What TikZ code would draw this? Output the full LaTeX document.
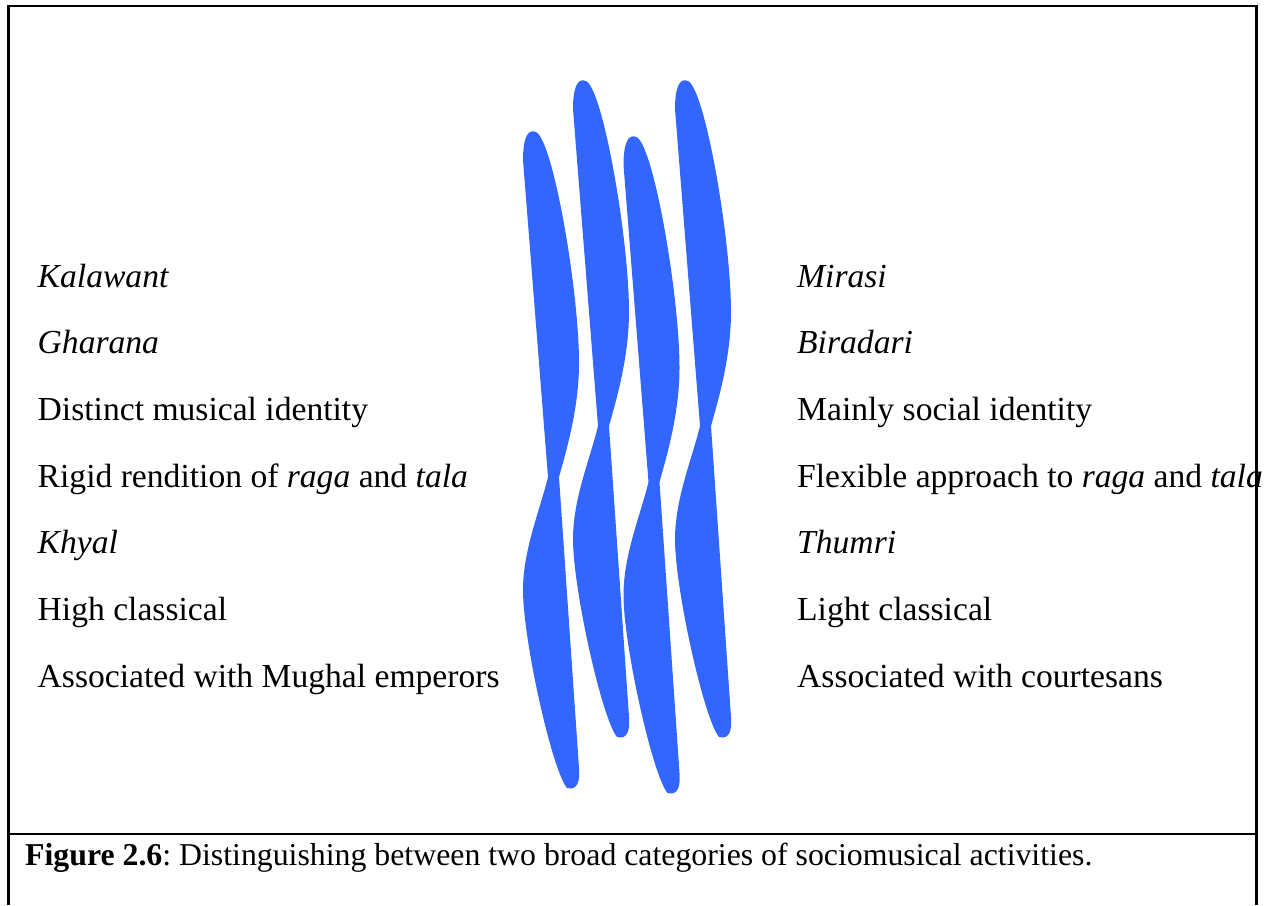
\documentclass[tikz,border=0pt]{standalone}
\usepackage{fontspec}
\setmainfont{Liberation Serif}
\frenchspacing
\definecolor{ribbon}{RGB}{51,102,255}
\begin{document}
\begin{tikzpicture}[x=1pt,y=-1pt,
  item/.style={anchor=base west,inner sep=0pt,font=\fontsize{33.6}{40}\selectfont},
  caption/.style={anchor=base west,inner sep=0pt,font=\fontsize{31.8}{38}\selectfont},
  frame/.style={line width=2.2pt,black}]
\useasboundingbox (0,0) rectangle (1271,905);

% frame with caption strip
\draw[frame] (8.5,905) -- (8.5,6) -- (1256.5,6) -- (1256.5,905);
\draw[frame] (8.5,834) -- (1256.5,834);

% twisted ribbons
\def\ribbon{%
  (548,477) .. controls (540,510) and (523,550) .. (523,590)
  .. controls (523,640) and (552,770) .. (567,788)
  .. controls (578,791) and (580,780) .. (579,768)
  -- (559,477)
  .. controls (565,455) and (579,410) .. (579,363)
  .. controls (579,290) and (553,140) .. (536,132)
  .. controls (527,128) and (523,140) .. (523,160)
  -- cycle}
\foreach \dx/\dy in {0/0, 50/-51, 100.5/5, 152/-51}{
  \fill[ribbon,shift={(\dx,\dy)}] \ribbon;
}

% left column
\node[item] (l1) at (37.5,287)   {\textit{Kalawant}};
\node[item] (l2) at (37.5,353.7) {\textit{Gharana}};
\node[item] (l3) at (37.5,420.3) {Distinct musical identity};
\node[item] (l4) at (37.5,487)   {Rigid rendition of \textit{raga} and \textit{tala}};
\node[item] (l5) at (37.5,553.7) {\textit{Khyal}};
\node[item] (l6) at (37.5,620.3) {High classical};
\node[item] (l7) at (37.5,687)   {Associated with Mughal emperors};

% right column
\node[item] (r1) at (797,287)   {\textit{Mirasi}};
\node[item] (r2) at (797,353.7) {\textit{Biradari}};
\node[item] (r3) at (797,420.3) {Mainly social identity};
\node[item] (r4) at (797,487)   {Flexible approach to \textit{raga} and \textit{tala}};
\node[item] (r5) at (797,553.7) {\textit{Thumri}};
\node[item] (r6) at (797,620.3) {Light classical};
\node[item] (r7) at (797,687)   {Associated with courtesans};

% caption
\node[caption] (cap) at (25,865) {\textbf{Figure 2.6}: Distinguishing between two broad categories of sociomusical activities.};
\end{tikzpicture}
\end{document}
